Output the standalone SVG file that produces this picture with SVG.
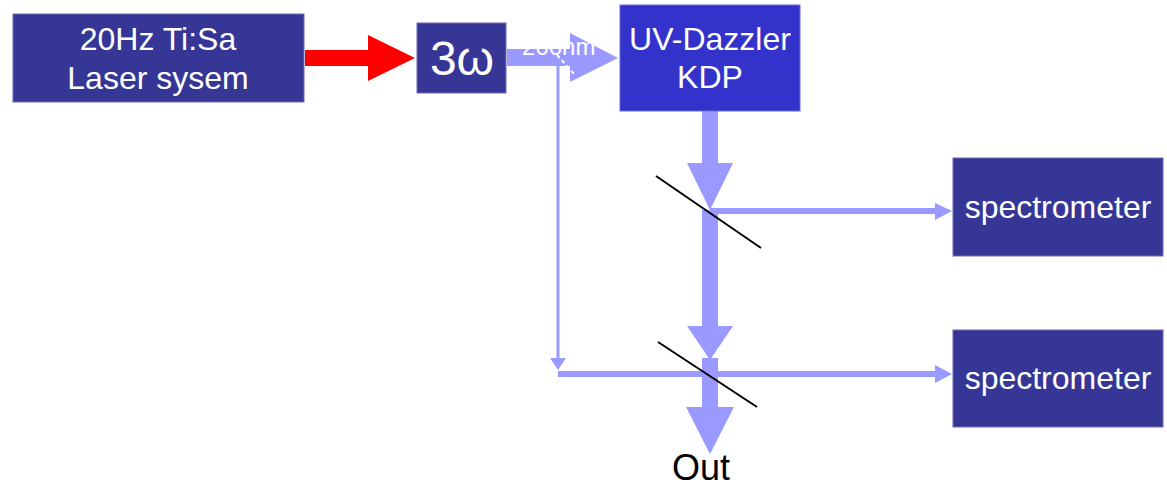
<svg xmlns="http://www.w3.org/2000/svg" width="1167" height="486" viewBox="0 0 1167 486">
<style>
.box{fill:#363696;stroke:#6a6ab4;stroke-width:1}
.uv{fill:#3333cc;stroke:#6a6ad8;stroke-width:1}
.t{font-family:"Liberation Sans",Arial,sans-serif;font-size:32px;fill:#ffffff;text-anchor:middle}
.beam{fill:#9999ff}
.mirror{stroke:#000000;stroke-width:2;fill:none}
</style>
<rect width="1167" height="486" fill="#ffffff"/>
<g id="connectors">
  <polygon id="red-arrow" fill="#ff0000" points="305,50 368,50 368,35 415,58 368,81 368,66 305,66"/>
  <polygon class="beam" points="507,49 570,49 570,33 618,58 570,82 570,66 507,66"/>
  <line x1="558" y1="66" x2="558" y2="360" stroke="#9999ff" stroke-width="3"/>
  <polygon class="beam" points="550,358 566,358 558,370"/>
  <line x1="557" y1="55" x2="575" y2="75" stroke="#ffffff" stroke-width="2" stroke-dasharray="4,3"/>
  <polygon class="beam" points="702,111 718,111 718,163 733,163 710,210 687,163 702,163"/>
  <polygon class="beam" points="702,210 718,210 718,326 733,326 710,360 687,326 702,326"/>
  <polygon class="beam" points="702,358 718,358 718,407 734,407 710,454 686,407 702,407"/>
  <polygon class="beam" points="710,208 935,208 935,203 952,211 935,220 935,214 710,214"/>
  <polygon class="beam" points="558,371 935,371 935,365 952,374 935,383 935,377 558,377"/>
  <line class="mirror" x1="656" y1="176" x2="761" y2="248"/>
  <line class="mirror" x1="658" y1="342" x2="757" y2="407"/>
</g>
<g id="laser">
  <rect class="box" x="13" y="14" width="291" height="88"/>
  <text class="t" x="158" y="50">20Hz Ti:Sa</text>
  <text class="t" x="158" y="89">Laser sysem</text>
</g>
<g id="tripler">
  <rect class="box" x="417" y="23" width="89" height="70"/>
  <text class="t" x="462" y="75" style="font-size:48px">3ω</text>
</g>
<text x="522" y="55" style="font-family:'Liberation Sans',Arial,sans-serif;font-size:24px;fill:#ffffff">266nm</text>
<g id="dazzler">
  <rect class="uv" x="620" y="5" width="180" height="106"/>
  <text class="t" x="710" y="50">UV-Dazzler</text>
  <text class="t" x="710" y="88">KDP</text>
</g>
<g id="spectrometer1">
  <rect class="box" x="953" y="158" width="210" height="98"/>
  <text class="t" x="1058" y="218">spectrometer</text>
</g>
<g id="spectrometer2">
  <rect class="box" x="953" y="330" width="210" height="97"/>
  <text class="t" x="1058" y="389">spectrometer</text>
</g>
<g id="out">
  <text class="t" x="701" y="480" style="font-size:36px;fill:#000000">Out</text>
</g>
</svg>
